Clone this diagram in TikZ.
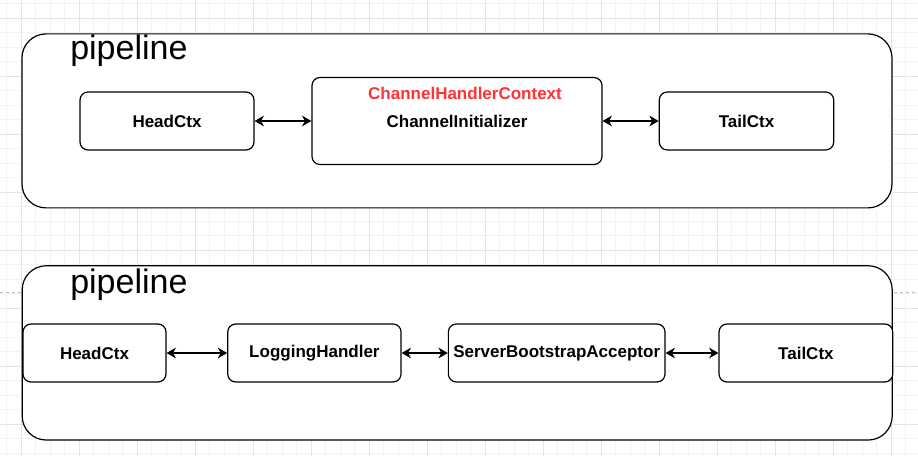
\documentclass[tikz,border=0pt]{standalone}
\usepackage{fontspec}
\setmainfont{Liberation Sans}
\usepackage{tikz}
\usetikzlibrary{arrows,arrows.meta,shapes,positioning}
\usepackage{xcolor}
\definecolor{ctxred}{RGB}{255,51,51}
\definecolor{gridminor}{RGB}{243,243,243}
\definecolor{gridmajor}{RGB}{228,228,228}
\definecolor{pagebreak}{RGB}{190,190,190}
\tikzstyle{arrow} = [line width=1.1pt,<->,>={Stealth[length=7pt,width=8pt,inset=2.2pt]},color=black]
\tikzstyle{ctx} = [rectangle, rounded corners=6pt, inner sep=0pt, minimum height=43.5pt, text centered, draw=black, fill=white, line width=0.9pt, font=\fontsize{12.75}{15}\selectfont\bfseries]
\tikzstyle{pipe} = [rectangle, rounded corners=18pt, inner sep=0pt, minimum width=652.5pt, minimum height=130.5pt, draw=black, fill=white, line width=0.9pt]
\tikzstyle{pipetitle} = [anchor=base west, inner sep=0pt, font=\fontsize{25.5}{30}\selectfont]

\begin{document}
\begin{tikzpicture}[x=0.75pt, y=-0.75pt]
\useasboundingbox (0,0) rectangle (918,456);
% Background grid
\foreach \i in {0,...,62} \draw[gridminor, line width=0.5pt] ({6.7+14.5*\i},0) -- ({6.7+14.5*\i},456);
\foreach \i in {0,...,31} \draw[gridminor, line width=0.5pt] (0,{3.5+14.5*\i}) -- (918,{3.5+14.5*\i});
\foreach \i in {1,5,...,61} \draw[gridmajor, line width=0.5pt] ({6.7+14.5*\i},0) -- ({6.7+14.5*\i},456);
\foreach \i in {1,5,...,29} \draw[gridmajor, line width=0.5pt] (0,{3.5+14.5*\i}) -- (918,{3.5+14.5*\i});
\draw[pagebreak, line width=0.5pt, dash pattern=on 2.5pt off 2pt] (0,292) -- (918,292);

% Pipeline before registration
\node (pipetop) [pipe] at (457,120.9) {};
\node (titletop) [pipetitle] at (70,59.3) {pipeline};
\node (headtop) [ctx, minimum width=130.5pt] at (167,121) {HeadCtx};
\node (inittop) [ctx, minimum width=217.5pt, minimum height=65.25pt] at (457,121) {ChannelInitializer};
\node (ctxname) [font=\fontsize{12.75}{15}\selectfont\bfseries, text=ctxred, inner sep=0pt] at (465,93) {ChannelHandlerContext};
\node (tailtop) [ctx, minimum width=130.8pt] at (746.5,121) {TailCtx};

% Pipeline after registration
\node (pipebot) [pipe, minimum height=130.7pt] at (457.2,352.9) {};
\node (titlebot) [pipetitle] at (70,293.3) {pipeline};
\node (headbot) [ctx, minimum width=107.25pt] at (94.5,353) {HeadCtx};
\node (logging) [ctx, minimum width=130pt] at (314.4,353) {LoggingHandler};
\node (acceptor) [ctx, minimum width=162.5pt] at (556.7,353) {ServerBootstrapAcceptor};
\node (tailbot) [ctx, minimum width=130.3pt] at (805.9,353) {TailCtx};

% Connections
\draw[arrow] (headtop) -- (inittop);
\draw[arrow] (inittop) -- (tailtop);
\draw[arrow] (headbot) -- (logging);
\draw[arrow] (logging) -- (acceptor);
\draw[arrow] (acceptor) -- (tailbot);
\end{tikzpicture}
\end{document}
